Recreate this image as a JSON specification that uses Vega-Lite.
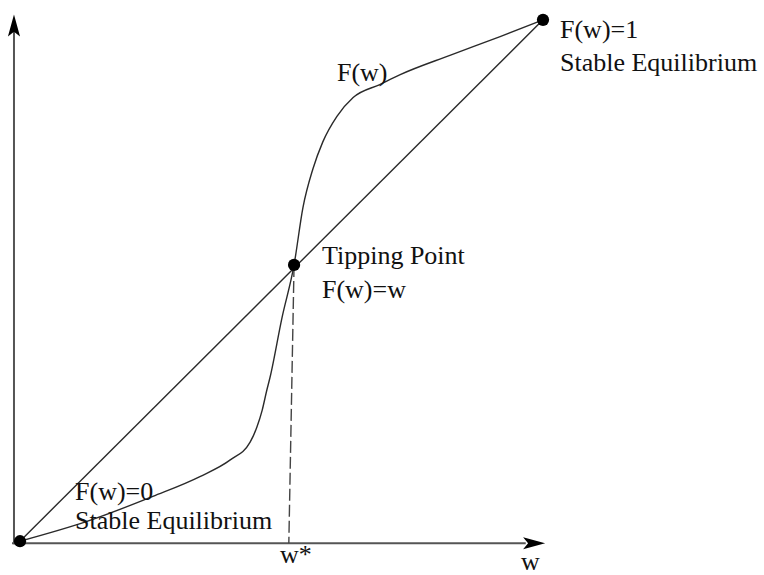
{
  "$schema": "https://vega.github.io/schema/vega-lite/v6.json",
  "width": 764,
  "height": 575,
  "padding": 0,
  "autosize": {"type": "fit", "contains": "padding"},
  "background": "white",
  "config": {"view": {"stroke": null}},
  "datasets": {
    "curve": [
      {"w": 0, "F": 0},
      {"w": 0.128, "F": 0.038},
      {"w": 0.254, "F": 0.086},
      {"w": 0.344, "F": 0.124},
      {"w": 0.402, "F": 0.156},
      {"w": 0.44, "F": 0.19},
      {"w": 0.453, "F": 0.219},
      {"w": 0.463, "F": 0.251},
      {"w": 0.472, "F": 0.29},
      {"w": 0.478, "F": 0.314},
      {"w": 0.501, "F": 0.429},
      {"w": 0.524, "F": 0.53},
      {"w": 0.541, "F": 0.64},
      {"w": 0.56, "F": 0.714},
      {"w": 0.579, "F": 0.766},
      {"w": 0.606, "F": 0.815},
      {"w": 0.637, "F": 0.851},
      {"w": 0.688, "F": 0.876},
      {"w": 0.727, "F": 0.895},
      {"w": 0.822, "F": 0.932},
      {"w": 0.918, "F": 0.968},
      {"w": 1, "F": 1}
    ],
    "segments": [
      {"name": "x-axis", "w": -0.0153, "F": -0.0038, "w2": 0.967, "F2": -0.0038},
      {"name": "y-axis", "w": -0.0115, "F": -0.0057, "w2": -0.0115, "F2": 0.981},
      {"name": "diagonal", "w": 0, "F": 0, "w2": 1, "F2": 1}
    ],
    "dashed": [
      {"w": 0.524, "F": 0.53, "w2": 0.514, "F2": -0.004}
    ],
    "equilibria": [
      {"w": 0, "F": 0},
      {"w": 0.524, "F": 0.53},
      {"w": 1, "F": 1}
    ],
    "upArrow": [{"w": -0.0115, "F": 0.989}],
    "rightArrow": [{"w": 0.983, "F": -0.0038}],
    "labels": [
      {"text": "F(w)=1", "w": 1.0325, "F": 0.9657},
      {"text": "Stable Equilibrium", "w": 1.0325, "F": 0.901},
      {"text": "F(w)", "w": 0.606, "F": 0.882},
      {"text": "Tipping Point", "w": 0.5774, "F": 0.5314},
      {"text": "F(w)=w", "w": 0.5774, "F": 0.4667},
      {"text": "F(w)=0", "w": 0.1052, "F": 0.08},
      {"text": "Stable Equilibrium", "w": 0.1052, "F": 0.0229},
      {"text": "w*", "w": 0.4971, "F": -0.0419},
      {"text": "w", "w": 0.958, "F": -0.0552}
    ]
  },
  "encoding": {
    "x": {"field": "w", "type": "quantitative", "axis": null,
          "scale": {"domain": [-0.03824, 1.42256], "nice": false, "zero": false}},
    "y": {"field": "F", "type": "quantitative", "axis": null,
          "scale": {"domain": [-0.05714, 1.0381], "nice": false, "zero": false}}
  },
  "layer": [
    {
      "data": {"name": "segments"},
      "transform": [{"filter": "datum.name != 'diagonal'"}],
      "mark": {"type": "rule", "color": "#555555", "strokeWidth": 2},
      "encoding": {"x2": {"field": "w2"}, "y2": {"field": "F2"}}
    },
    {
      "data": {"name": "segments"},
      "transform": [{"filter": "datum.name == 'diagonal'"}],
      "mark": {"type": "rule", "color": "#2a2a2a", "strokeWidth": 1.4},
      "encoding": {"x2": {"field": "w2"}, "y2": {"field": "F2"}}
    },
    {
      "data": {"name": "dashed"},
      "mark": {"type": "rule", "color": "#444444", "strokeWidth": 1.4, "strokeDash": [12, 4]},
      "encoding": {"x2": {"field": "w2"}, "y2": {"field": "F2"}}
    },
    {
      "data": {"name": "curve"},
      "mark": {"type": "line", "color": "#2a2a2a", "strokeWidth": 1.4, "interpolate": "monotone"},
      "encoding": {"order": {"field": "w", "type": "quantitative"}}
    },
    {
      "data": {"name": "upArrow"},
      "mark": {"type": "point", "shape": "M0,-1L0.55,1L0,0.55L-0.55,1Z", "filled": true, "color": "black", "size": 484, "opacity": 1},
      "encoding": {}
    },
    {
      "data": {"name": "rightArrow"},
      "mark": {"type": "point", "shape": "M0,-1L0.55,1L0,0.55L-0.55,1Z", "filled": true, "color": "black", "size": 484, "angle": 90, "opacity": 1},
      "encoding": {}
    },
    {
      "data": {"name": "equilibria"},
      "mark": {"type": "circle", "color": "black", "size": 150, "opacity": 1},
      "encoding": {}
    },
    {
      "data": {"name": "labels"},
      "mark": {"type": "text", "font": "Liberation Serif", "fontSize": 26, "align": "left", "baseline": "alphabetic", "color": "#111111"},
      "encoding": {"text": {"field": "text", "type": "nominal"}}
    }
  ]
}
